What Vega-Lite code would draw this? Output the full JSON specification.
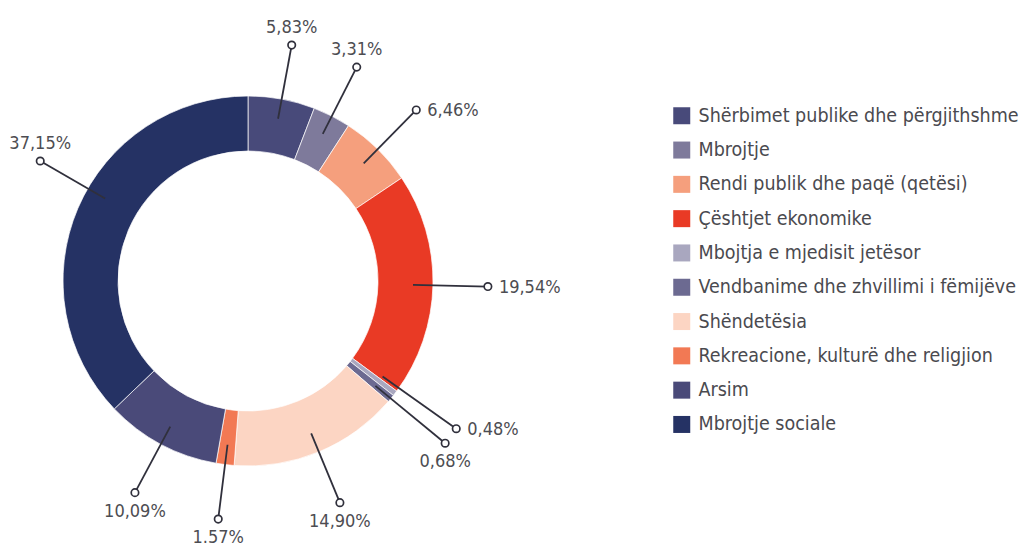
{
  "$schema": "https://vega.github.io/schema/vega-lite/v6.json",
  "width": 496,
  "height": 496,
  "autosize": {"type": "none"},
  "padding": {"left": 0, "top": 33, "right": 523, "bottom": 18},
  "background": "white",
  "config": {"view": {"stroke": null}},
  "data": {
    "values": [
      {"order": 1, "category": "Shërbimet publike dhe përgjithshme", "value": 5.83, "label": "5,83%"},
      {"order": 2, "category": "Mbrojtje", "value": 3.31, "label": "3,31%"},
      {"order": 3, "category": "Rendi publik dhe paqë (qetësi)", "value": 6.46, "label": "6,46%"},
      {"order": 4, "category": "Çështjet ekonomike", "value": 19.54, "label": "19,54%"},
      {"order": 5, "category": "Mbojtja e mjedisit jetësor", "value": 0.48, "label": "0,48%"},
      {"order": 6, "category": "Vendbanime dhe zhvillimi i fëmijëve", "value": 0.68, "label": "0,68%"},
      {"order": 7, "category": "Shëndetësia", "value": 14.90, "label": "14,90%"},
      {"order": 8, "category": "Rekreacione, kulturë dhe religjion", "value": 1.57, "label": "1.57%"},
      {"order": 9, "category": "Arsim", "value": 10.09, "label": "10,09%"},
      {"order": 10, "category": "Mbrojtje sociale", "value": 37.15, "label": "37,15%"}
    ]
  },
  "transform": [
    {"joinaggregate": [{"op": "sum", "field": "value", "as": "total"}]},
    {"window": [{"op": "sum", "field": "value", "as": "cum"}], "sort": [{"field": "order"}], "frame": [null, 0]},
    {"calculate": "(datum.cum - datum.value / 2) / datum.total * 2 * PI", "as": "mid"},
    {"calculate": "datum.mid + (datum.value > 30 ? 0.12 : (datum.value < 0.5 ? -0.035 : 0))", "as": "la"},
    {"calculate": "datum.value < 1 ? 1.38 : 1.297", "as": "lr"},
    {"calculate": "0.892 * sin(datum.la)", "as": "lx1"},
    {"calculate": "0.892 * cos(datum.la)", "as": "ly1"},
    {"calculate": "datum.lr * sin(datum.la)", "as": "lx2"},
    {"calculate": "datum.lr * cos(datum.la)", "as": "ly2"},
    {"calculate": "datum.la > 0.55 && datum.la < 2.24 ? 'right' : (cos(datum.la) >= 0 ? 'top' : 'bottom')", "as": "side"}
  ],
  "layer": [
    {
      "mark": {"type": "arc", "outerRadius": 185, "innerRadius": 130, "stroke": "white", "strokeWidth": 0.7},
      "encoding": {
        "theta": {"field": "value", "type": "quantitative", "stack": true},
        "order": {"field": "order", "type": "quantitative"},
        "color": {
          "field": "category",
          "type": "nominal",
          "sort": null,
          "scale": {
            "domain": ["Shërbimet publike dhe përgjithshme", "Mbrojtje", "Rendi publik dhe paqë (qetësi)", "Çështjet ekonomike", "Mbojtja e mjedisit jetësor", "Vendbanime dhe zhvillimi i fëmijëve", "Shëndetësia", "Rekreacione, kulturë dhe religjion", "Arsim", "Mbrojtje sociale"],
            "range": ["#484a7a", "#7e7a9b", "#f59f7d", "#e93a25", "#a9a7bf", "#6c6a91", "#fcd5c3", "#f27954", "#4a4a79", "#253264"]
          },
          "legend": {
            "title": null,
            "orient": "none",
            "legendX": 672,
            "legendY": 73,
            "symbolType": "square",
            "symbolSize": 289,
            "symbolStrokeWidth": 0,
            "labelFont": "DejaVu Sans Condensed, Roboto, sans-serif",
            "labelFontSize": 19.5,
            "labelColor": "#4a4a4f",
            "labelOffset": 7,
            "rowPadding": 13.3,
            "labelLimit": 400
          }
        }
      }
    },
    {
      "mark": {"type": "rule", "color": "#30303c", "strokeWidth": 1.8},
      "encoding": {
        "x": {"field": "lx1", "type": "quantitative", "scale": {"domain": [-1.34054, 1.34054], "nice": false, "zero": false}, "axis": null},
        "y": {"field": "ly1", "type": "quantitative", "scale": {"domain": [-1.34054, 1.34054], "nice": false, "zero": false}, "axis": null},
        "x2": {"field": "lx2"},
        "y2": {"field": "ly2"}
      }
    },
    {
      "mark": {"type": "point", "shape": "circle", "filled": true, "fill": "white", "stroke": "#30303c", "strokeWidth": 1.7, "size": 55, "opacity": 1},
      "encoding": {
        "x": {"field": "lx2", "type": "quantitative"},
        "y": {"field": "ly2", "type": "quantitative"}
      }
    },
    {
      "transform": [{"filter": "datum.side == 'right'"}],
      "mark": {"type": "text", "align": "left", "baseline": "middle", "dx": 11, "dy": 1, "font": "DejaVu Sans Condensed, Roboto, sans-serif", "fontSize": 18, "color": "#4d4d52"},
      "encoding": {
        "x": {"field": "lx2", "type": "quantitative"},
        "y": {"field": "ly2", "type": "quantitative"},
        "text": {"field": "label"}
      }
    },
    {
      "transform": [{"filter": "datum.side == 'top'"}],
      "mark": {"type": "text", "align": "center", "baseline": "alphabetic", "dy": -12, "font": "DejaVu Sans Condensed, Roboto, sans-serif", "fontSize": 18, "color": "#4d4d52"},
      "encoding": {
        "x": {"field": "lx2", "type": "quantitative"},
        "y": {"field": "ly2", "type": "quantitative"},
        "text": {"field": "label"}
      }
    },
    {
      "transform": [{"filter": "datum.side == 'bottom'"}],
      "mark": {"type": "text", "align": "center", "baseline": "top", "dy": 10, "font": "DejaVu Sans Condensed, Roboto, sans-serif", "fontSize": 18, "color": "#4d4d52"},
      "encoding": {
        "x": {"field": "lx2", "type": "quantitative"},
        "y": {"field": "ly2", "type": "quantitative"},
        "text": {"field": "label"}
      }
    }
  ]
}
